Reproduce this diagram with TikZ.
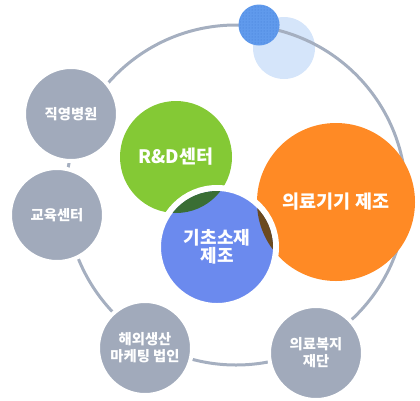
\documentclass[tikz,border=0pt]{standalone}
\usepackage{fontspec}
\setmainfont{Noto Sans CJK KR}
\usepackage{tikz}
\usetikzlibrary{patterns}
\definecolor{ringgray}{HTML}{A5AFC0}
\definecolor{subgray}{HTML}{A1AABB}
\definecolor{rdgreen}{HTML}{84C935}
\definecolor{mfgorange}{HTML}{FF8A25}
\definecolor{basisblue}{HTML}{6B8AEE}
\definecolor{lensgreen}{HTML}{3A6E35}
\definecolor{lensbrown}{HTML}{6B4A1F}
\definecolor{dotblue}{HTML}{609AEC}
\definecolor{dotdark}{HTML}{3F78D4}
\definecolor{paleblue}{HTML}{D5E5FA}
\tikzset{
  orbit/.style={draw=ringgray, line width=3pt},
  subnode/.style={circle, fill=subgray, draw=white, line width=4pt, minimum size=94pt, inner sep=0pt, text=white, align=center, font=\bfseries\fontsize{14.3}{17}\selectfont},
  corenode/.style={circle, inner sep=0pt, text=white, align=center, font=\bfseries\fontsize{18.5}{16}\selectfont}
}

\begin{document}
\begin{tikzpicture}[x=1pt, y=-1pt]
  \useasboundingbox (0,0) rectangle (420,400);
  % decoration on top of the orbit
  \fill[paleblue] (284,48) circle (31);
  \node[circle, minimum size=340pt, inner sep=0pt, orbit] (orbit) at (236,195) {};
  \node[circle, minimum size=41pt, inner sep=0pt, fill=dotblue] (dot) at (259,25) {};
  \fill[pattern=dots, pattern color=dotdark] (dot.center) circle (20.5);
  % outer circles
  \node[subnode] (hospital) at (71,114) {직영병원};
  \node[subnode] (edu) at (57,215) {교육센터};
  \node[subnode] (overseas) at (145,348) {해외생산\\마케팅 법인};
  \node[subnode] (welfare) at (316,353) {의료복지\\재단};
  % core circles
  \node[corenode, fill=rdgreen, minimum size=112pt] (rd) at (176,157) {R\&D센터};
  \node[corenode, fill=mfgorange, minimum size=158pt] (mfg) at (336,202) {의료기기 제조};
  \node[corenode, fill=basisblue, draw=white, line width=6pt, minimum size=118pt, font=\bfseries\fontsize{18}{15.5}\selectfont] (basis) at (217,247) {기초소재\\제조};
  \begin{scope}
    \clip (basis.center) circle (56);
    \fill[lensgreen] (rd.center) circle (56);
    \fill[lensbrown] (mfg.center) circle (79);
  \end{scope}
\end{tikzpicture}
\end{document}
